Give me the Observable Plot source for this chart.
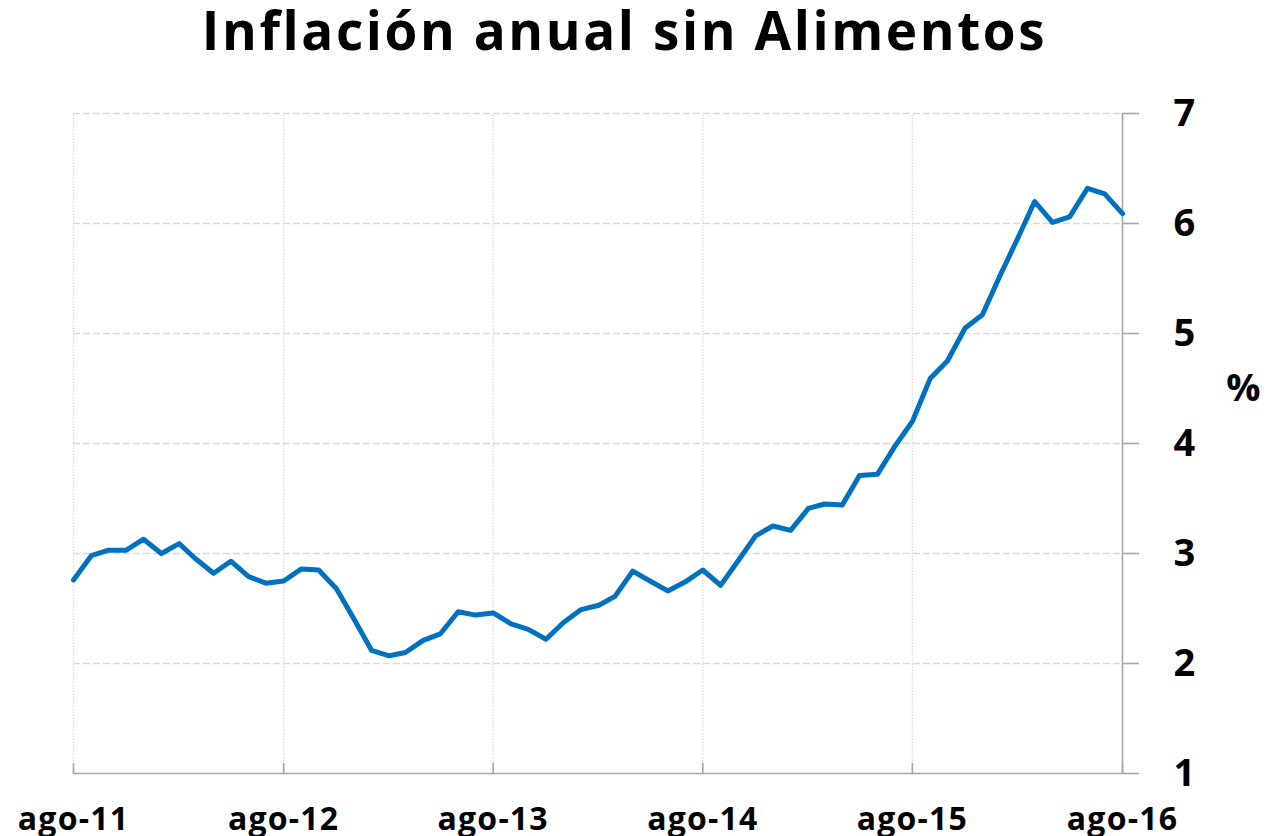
<!DOCTYPE html>
<html>
<head>
<meta charset="utf-8">
<script src="https://cdn.jsdelivr.net/npm/d3@7"></script>
<script src="https://cdn.jsdelivr.net/npm/@observablehq/plot@0.6"></script>
<style>
  html, body { margin: 0; padding: 0; background: #fff; }
  #title { height: 80px; box-sizing: border-box; padding-right: 35px; text-align: center;
    font-family: "Open Sans", sans-serif; font-weight: 700; font-size: 53px; letter-spacing: 2.6px;
    line-height: 60px; color: #000; white-space: nowrap; }
  #chart svg { display: block; }
</style>
</head>
<body>
<div id="title">Inflación anual sin Alimentos</div>
<div id="chart"></div>
<script>
// Monthly series, ago-11 .. ago-16
const startMonth = "2011-08-01";
const values = [
  2.76, 2.98, 3.03, 3.03, 3.13, 3.00, 3.09, 2.95, 2.82, 2.93,
  2.79, 2.73, 2.75, 2.86, 2.85, 2.68, 2.41, 2.12, 2.07, 2.10,
  2.21, 2.27, 2.47, 2.44, 2.46, 2.36, 2.31, 2.22, 2.37, 2.49,
  2.53, 2.61, 2.84, 2.75, 2.66, 2.74, 2.85, 2.71, 2.93, 3.16,
  3.25, 3.21, 3.41, 3.45, 3.44, 3.71, 3.72, 3.97, 4.20, 4.59,
  4.75, 5.05, 5.17, 5.53, 5.87, 6.20, 6.01, 6.06, 6.32, 6.27,
  6.09
];
const xTickLabels = ["ago-11", "ago-12", "ago-13", "ago-14", "ago-15", "ago-16"];
const yTicks = [1, 2, 3, 4, 5, 6, 7];
const yLabel = "%";

const start = new Date(startMonth + "T00:00:00Z");
const data = values.map((v, i) => ({date: d3.utcMonth.offset(start, i), value: v}));
const xTicks = xTickLabels.map((_, i) => d3.utcYear.offset(start, i));
const endDate = xTicks[xTicks.length - 1];
const labelOf = new Map(xTicks.map((d, i) => [+d, xTickLabels[i]]));

const axisColor = "#a6a6a6";
const tickUp = {draw(context, l) { context.moveTo(0, 0); context.lineTo(0, -l); }};

const chart = Plot.plot({
  width: 1284,
  height: 756,
  marginTop: 33,
  marginBottom: 63,
  marginLeft: 73,
  marginRight: 162,
  style: {fontFamily: "'Open Sans', sans-serif", background: "#fff", color: "#000"},
  x: {type: "utc", domain: [start, endDate]},
  y: {domain: [1, 7]},
  marks: [
    Plot.ruleY(yTicks.filter(d => d > 1), {stroke: "#d9d9d9", strokeWidth: 1.3, strokeDasharray: "7,3"}),
    Plot.ruleX(xTicks.slice(0, -1), {y1: 1, y2: 7, stroke: "#d9d9d9", strokeWidth: 1.3, strokeDasharray: "1.5,1.5"}),
    Plot.ruleY([1], {stroke: axisColor, strokeWidth: 1.6}),
    Plot.ruleX([endDate], {y1: 1, y2: 7, stroke: axisColor, strokeWidth: 1.6}),
    Plot.vector(xTicks, {x: d => d, frameAnchor: "bottom", length: 10, rotate: 0, anchor: "start", shape: tickUp, stroke: axisColor, strokeWidth: 1.6}),
    Plot.axisY(yTicks, {anchor: "right", tickSize: 16, tickPadding: 35, stroke: axisColor, strokeWidth: 1.6,
      fontSize: 38, fontWeight: 700, fill: "#000", label: null, tickFormat: d => String(d)}),
    Plot.axisX(xTicks, {anchor: "bottom", tickSize: 0, tickPadding: 34, fontSize: 32, fontWeight: 700, fill: "#000",
      tickFormat: d => labelOf.get(+d), label: null}),
    Plot.text([yLabel], {text: d => d, frameAnchor: "right", dx: 138, dy: -55, fontSize: 38, fontWeight: 700, fill: "#000"}),
    Plot.line(data, {x: "date", y: "value", stroke: "#0070C0", strokeWidth: 5, strokeLinejoin: "round", strokeLinecap: "round"})
  ]
});
chart.querySelectorAll("[aria-label='x-axis tick label'] text").forEach(t => t.setAttribute("letter-spacing", "1.2"));
document.getElementById("chart").appendChild(chart);
</script>
</body>
</html>
